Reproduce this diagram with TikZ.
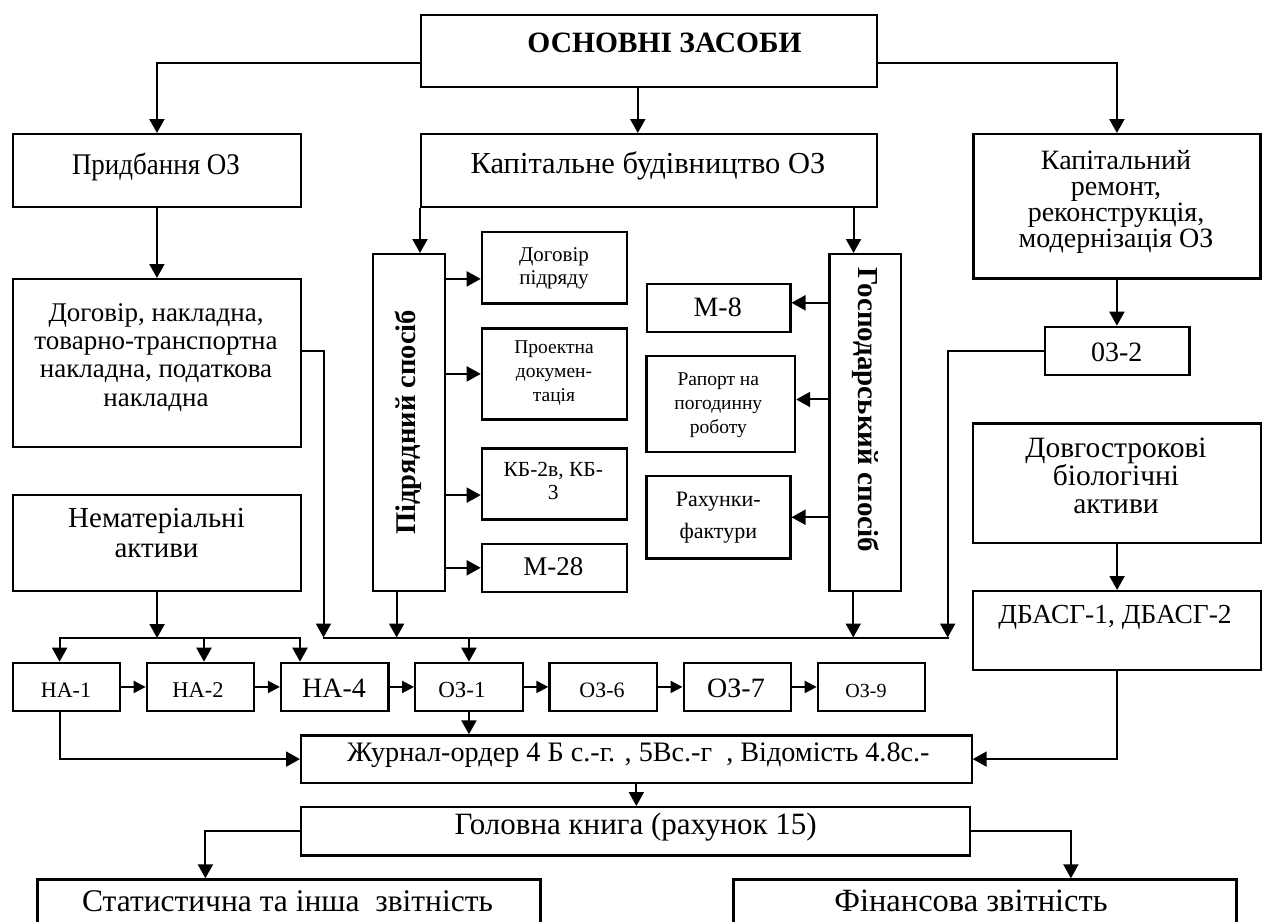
\documentclass[tikz,border=0pt]{standalone}
\usepackage{fontspec}
\setmainfont{Liberation Serif}
\usetikzlibrary{arrows.meta}
\newcommand\fsz[1]{\fontsize{#1}{#1}\selectfont}
\begin{document}
\begin{tikzpicture}[x=1pt,y=-1pt,
  box/.style={draw,line width=2.2pt,inner sep=0pt,anchor=north west},
  txt/.style={inner sep=0pt,align=center},
  wire/.style={line width=2pt,line cap=rect},
  conn/.style={line width=2pt,-{Triangle[length=14pt,width=15pt]}},
  sconn/.style={line width=2pt,-{Triangle[length=12pt,width=12pt]}}]
\fill[white] (0,0) rectangle (1266,921);
\useasboundingbox (0,0) rectangle (1266,921);

% ---------- top level ----------
\node[box,minimum width=456pt,minimum height=72pt] (osn) at (420,14) {};
\node[txt,anchor=base,font=\bfseries\fsz{29.5}] (osnT) at (664.5,52) {ОСНОВНІ ЗАСОБИ};

\node[box,minimum width=288.3pt,minimum height=73pt] (prid) at (11.7,133) {};
\node[txt,anchor=base,font=\fsz{30}] (pridT) at (156,174.5) {\scalebox{0.9}[1]{Придбання ОЗ}};

\node[box,minimum width=456pt,minimum height=73pt] (kapb) at (420,133) {};
\node[txt,anchor=base,font=\fsz{30.5}] (kapbT) at (648,173.8) {Капітальне будівництво ОЗ};

\node[box,minimum width=287pt,minimum height=144.3pt] (kapr) at (972.3,133) {};
\node[txt,font={\fontsize{28}{26}\selectfont}] (kaprT) at (1116,202)
  {Капітальний\\ремонт,\\реконструкція,\\модернізація ОЗ};

% ---------- left column ----------
\node[box,minimum width=288pt,minimum height=168pt] (dog) at (12,278) {};
\node[txt,font={\fontsize{27}{28.3}\selectfont}] (dogT) at (156,357.5)
  {Договір, накладна,\\товарно-транспортна\\накладна, податкова\\накладна};

\node[box,minimum width=288pt,minimum height=96pt] (nemat) at (12,494) {};
\node[txt,font={\fontsize{29}{30}\selectfont}] (nematT) at (156.5,533) {Нематеріальні\\активи};

% ---------- construction methods ----------
\node[box,minimum width=72.3pt,minimum height=337pt] (pidr) at (371.7,253) {};
\node[txt,rotate=90,font=\bfseries\fsz{28.5}] (pidrT) at (408,422.5) {Підрядний спосіб};

\node[box,minimum width=71.7pt,minimum height=336.5pt] (gosp) at (828.3,253) {};
\node[txt,rotate=-90,font=\bfseries\fsz{29}] (gospT) at (866,410) {Господарський спосіб};

\node[box,minimum width=145pt,minimum height=71.8pt] (dogp) at (480.7,230.5) {};
\node[txt,font={\fontsize{21}{23.3}\selectfont}] (dogpT) at (554,268.4) {Договір\\підряду};

\node[box,minimum width=145pt,minimum height=91pt] (proj) at (480.7,327.3) {};
\node[txt,font={\fontsize{19.5}{24}\selectfont}] (projT) at (554,373.3) {Проектна\\докумен-\\тація};

\node[box,minimum width=145pt,minimum height=71pt] (kb) at (480.7,447.3) {};
\node[txt,font={\fontsize{21.5}{23.3}\selectfont}] (kbT) at (553.3,481.2) {КБ-2в, КБ-\\3};

\node[box,minimum width=145pt,minimum height=48pt] (m28) at (480.7,542.7) {};
\node[txt,anchor=base,font=\fsz{27}] (m28T) at (553.3,575) {М-28};

\node[box,minimum width=143.6pt,minimum height=48.2pt] (m8) at (645.7,282.5) {};
\node[txt,anchor=base,font=\fsz{28}] (m8T) at (717.7,316.5) {М-8};

\node[box,minimum width=148.7pt,minimum height=95.7pt] (rap) at (645.3,355) {};
\node[txt,font={\fontsize{19.5}{24}\selectfont}] (rapT) at (718.3,404.8) {Рапорт на\\погодинну\\роботу};

\node[box,minimum width=144pt,minimum height=82.3pt] (rah) at (645.3,475) {};
\node[txt,font={\fontsize{22}{31.7}\selectfont}] (rahT) at (718.3,517.9) {Рахунки-\\фактури};

% ---------- right column ----------
\node[box,minimum width=144.3pt,minimum height=48.3pt] (oz2) at (1044,325.7) {};
\node[txt,anchor=base,font=\fsz{28}] (oz2T) at (1116.7,361) {03-2};

\node[box,minimum width=288pt,minimum height=119.4pt] (dovg) at (972,422.3) {};
\node[txt,font={\fontsize{29.5}{28.3}\selectfont}] (dovgT) at (1116,476) {Довгострокові\\біологічні\\активи};

\node[box,minimum width=288pt,minimum height=79pt] (dbasg) at (972,590) {};
\node[txt,anchor=base,font=\fsz{27.5}] (dbasgT) at (1115,623) {ДБАСГ-1, ДБАСГ-2};

% ---------- forms row ----------
\node[box,minimum width=107.5pt,minimum height=48.3pt] (na1) at (11.5,661.7) {};
\node[box,minimum width=107.5pt,minimum height=48.3pt] (na2) at (145.7,661.7) {};
\node[box,minimum width=107.5pt,minimum height=48.3pt] (na4) at (279.9,661.7) {};
\node[box,minimum width=107.5pt,minimum height=48.3pt] (oz1) at (414.1,661.7) {};
\node[box,minimum width=107.5pt,minimum height=48.3pt] (oz6) at (548.3,661.7) {};
\node[box,minimum width=107.5pt,minimum height=48.3pt] (oz7) at (682.5,661.7) {};
\node[box,minimum width=107.5pt,minimum height=48.3pt] (oz9) at (816.7,661.7) {};
\node[txt,anchor=base,font=\fsz{22}] (na1T) at (66,697) {НА-1};
\node[txt,anchor=base,font=\fsz{22.5}] (na2T) at (198,697) {НА-2};
\node[txt,anchor=base,font=\fsz{28}] (na4T) at (334,697.5) {НА-4};
\node[txt,anchor=base,font=\fsz{23}] (oz1T) at (462,697) {ОЗ-1};
\node[txt,anchor=base,font=\fsz{22}] (oz6T) at (602,697) {ОЗ-6};
\node[txt,anchor=base,font=\fsz{28}] (oz7T) at (736,697.5) {ОЗ-7};
\node[txt,anchor=base,font=\fsz{20}] (oz9T) at (866,697) {ОЗ-9};

% ---------- registers ----------
\node[box,minimum width=670.5pt,minimum height=47.4pt] (zhur) at (300,734.3) {};
\node[txt,anchor=base,font=\fsz{28.2}] (zhurT) at (638.4,761.5)
  {Журнал-ордер 4 Б с.-г. , 5Вс.-г\ \ , Відомість 4.8с.-};

\node[box,minimum width=669pt,minimum height=48.3pt] (golov) at (300,806) {};
\node[txt,anchor=base,font=\fsz{31}] (golovT) at (635.7,834) {Головна книга (рахунок 15)};

\node[box,minimum width=503pt,minimum height=60pt] (stat) at (36.3,878.3) {};
\node[txt,anchor=base,font=\fsz{31.5}] (statT) at (287.5,911.5) {Статистична та інша\ \ звітність};

\node[box,minimum width=503pt,minimum height=60pt] (fin) at (732.3,878.3) {};
\node[txt,anchor=base,font=\fsz{32.5}] (finT) at (971,911.5) {Фінансова звітність};

% ---------- connectors: top ----------
\draw[conn] ([yshift=-11.7pt]osn.west) -| (prid.north);
\draw[conn] ([yshift=-11.7pt]osn.east) -| (kapr.north);
\draw[conn] ([xshift=-11.3pt]osn.south) -- ([xshift=-11.3pt]kapb.north);
\draw[conn] (prid.south) -- (prid.south |- dog.north);
\draw[conn] (kapb.south west) -- (kapb.south west |- pidr.north);
\path ([xshift=-11.7pt]gosp.north) coordinate (gN);
\draw[conn] (gN |- kapb.south) -- (gN);
\draw[conn] (kapr.south) -- (kapr.south |- oz2.north);
\draw[conn] (dovg.south) -- (dovg.south |- dbasg.north);

% ---------- connectors: construction documents ----------
\path ([yshift=-11.4pt]dogp.west) coordinate (a1);
\path ([yshift=-11.2pt]kb.west) coordinate (a3);
\draw[conn] (pidr.east |- a1) -- (a1);
\draw[conn] (pidr.east |- proj.west) -- (proj.west);
\draw[conn] (pidr.east |- a3) -- (a3);
\draw[conn] (pidr.east |- m28.west) -- (m28.west);
\path ([yshift=4.9pt]m8.east) coordinate (b1);
\path ([yshift=4.5pt]rap.east) coordinate (b2);
\draw[conn] (gosp.west |- b1) -- (b1);
\draw[conn] (gosp.west |- b2) -- (b2);
\draw[conn] (gosp.west |- rah.east) -- (rah.east);

% ---------- connectors: collecting bus ----------
\coordinate (busL) at (323.5,637.5);
\coordinate (busR) at (947.7,637.5);
\draw[wire] (busL) -- (busR);
\path ([yshift=12pt]dog.east) coordinate (d1);
\draw[conn] (d1) -| (busL);
\draw[conn] (oz2.west) -| (busR);
\path ([xshift=-12.3pt]pidr.south) coordinate (p1);
\path ([xshift=-12pt]gosp.south) coordinate (g1);
\draw[conn] (p1) -- (p1 |- busL);
\draw[conn] (g1) -- (g1 |- busL);
\draw[conn] (oz1.north |- busL) -- (oz1.north);

\coordinate (lbL) at (59.6,638);
\coordinate (lbM) at (204,638);
\coordinate (lbR) at (300,638);
\draw[wire] (lbL) -- (lbR);
\draw[conn] (nemat.south) -- (nemat.south |- lbL);
\draw[conn] (lbL) -- (lbL |- na1.north);
\draw[conn] (lbM) -- (lbM |- na2.north);
\draw[conn] (lbR) -- (lbR |- na4.north);

% ---------- connectors: forms row ----------
\draw[sconn] (na1.east) -- (na2.west);
\draw[sconn] (na2.east) -- (na4.west);
\draw[sconn] (na4.east) -- (oz1.west);
\draw[sconn] (oz1.east) -- (oz6.west);
\draw[sconn] (oz6.east) -- (oz7.west);
\draw[sconn] (oz7.east) -- (oz9.west);

% ---------- connectors: registers ----------
\draw[conn] (lbL |- na1.south) |- (zhur.west);
\draw[conn] (dbasg.south) |- (zhur.east);
\draw[conn] (oz1.south) -- (oz1.south |- zhur.north);
\draw[conn] (zhur.south) -- (zhur.south |- golov.north);
\path ([xshift=-83.5pt]stat.north) coordinate (s1);
\path ([xshift=86pt]fin.north) coordinate (f1);
\draw[conn] (golov.west) -| (s1);
\draw[conn] (golov.east) -| (f1);
\end{tikzpicture}
\end{document}
